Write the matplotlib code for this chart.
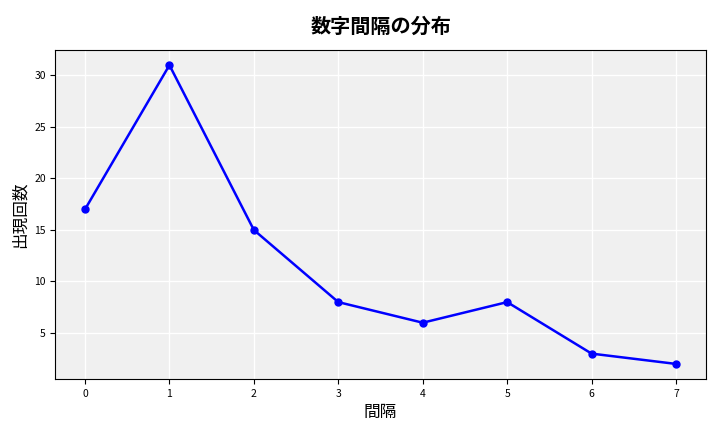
import matplotlib
matplotlib.use("Agg")
import matplotlib.pyplot as plt

plt.rcParams['font.family'] = ['Noto Sans CJK JP', 'DejaVu Sans']

gaps = [0, 1, 2, 3, 4, 5, 6, 7]
counts = [17, 31, 15, 8, 6, 8, 3, 2]

fig, ax = plt.subplots(figsize=(7.2, 4.32), dpi=100)
ax.set_facecolor('#f0f0f0')
ax.grid(True, color='white', linewidth=1)
ax.set_axisbelow(True)

ax.plot(gaps, counts, color='blue', marker='o', markersize=5, linewidth=1.8)

ax.set_title('数字間隔の分布', fontsize=14.5, fontweight='bold', pad=12)
ax.set_xlabel('間隔', fontsize=12)
ax.set_ylabel('出現回数', fontsize=12)
ax.set_xticks(gaps)
ax.tick_params(labelsize=7.5)
ax.set_xlim(-0.35, 7.35)
ax.set_ylim(0.55, 32.5)

fig.subplots_adjust(left=0.077, right=0.98, top=0.885, bottom=0.123)
fig.savefig('out.png')
